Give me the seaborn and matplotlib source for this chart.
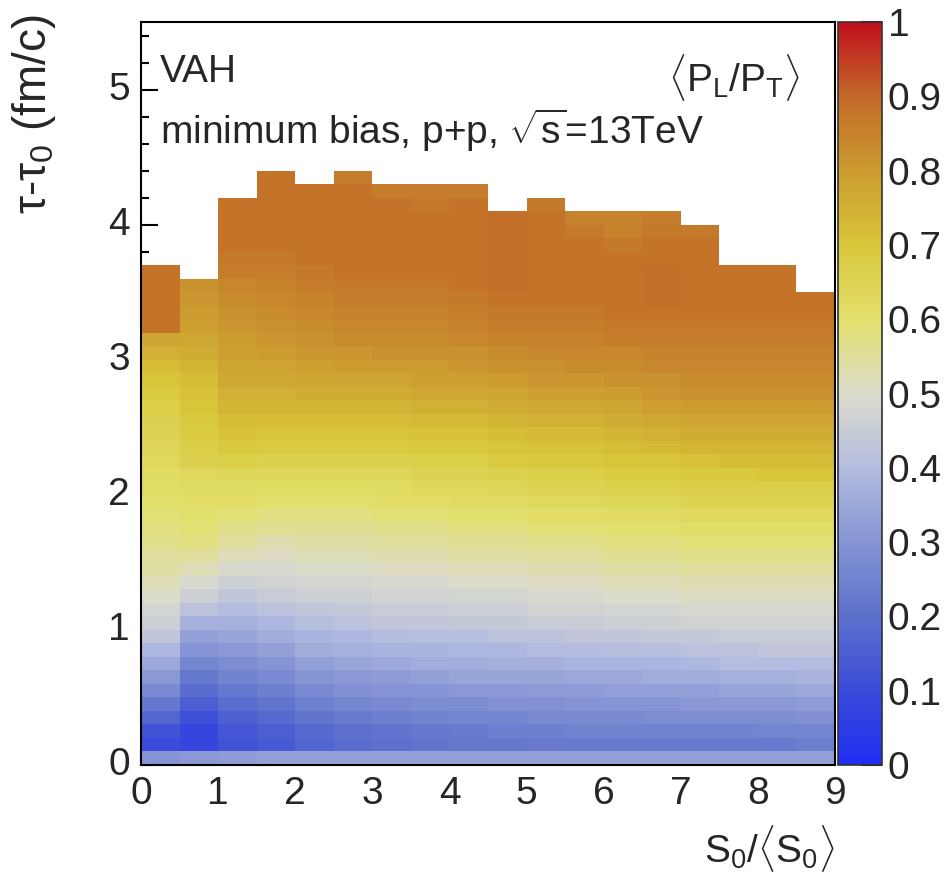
import numpy as np
import pandas as pd
import matplotlib
matplotlib.use("Agg")
import matplotlib.pyplot as plt
import seaborn as sns
from matplotlib.colors import LinearSegmentedColormap
from matplotlib import font_manager

# ---------------- data ----------------
s_bins = [0.0, 0.5, 1.0, 1.5, 2.0, 2.5, 3.0, 3.5, 4.0, 4.5, 5.0, 5.5, 6.0, 6.5, 7.0, 7.5, 8.0, 8.5]
tau_step = 0.1
col_tops = [3.7, 3.6, 4.2, 4.4, 4.3, 4.4, 4.3, 4.3, 4.3, 4.1, 4.2, 4.1, 4.1, 4.1, 4.0, 3.7, 3.7, 3.5]

col00 = [0.30, 0.10, 0.12, 0.17, 0.22, 0.27, 0.31, 0.35, 0.39, 0.43, 0.46, 0.48, 0.50, 0.52, 0.54, 0.55, 0.57, 0.58, 0.59, 0.60,
         0.61, 0.62, 0.63, 0.64, 0.65, 0.66, 0.67, 0.68, 0.70, 0.72, 0.75, 0.78, 0.88, 0.88, 0.88, 0.88, 0.88]
col01 = [0.31, 0.08, 0.08, 0.11, 0.15, 0.19, 0.22, 0.26, 0.30, 0.33, 0.37, 0.42, 0.46, 0.49, 0.52, 0.55, 0.58, 0.59, 0.60, 0.61,
         0.62, 0.63, 0.66, 0.67, 0.68, 0.69, 0.70, 0.71, 0.72, 0.74, 0.76, 0.77, 0.79, 0.80, 0.81, 0.82]
col02 = [0.32, 0.12, 0.13, 0.16, 0.19, 0.22, 0.25, 0.28, 0.31, 0.34, 0.37, 0.40, 0.43, 0.46, 0.49, 0.52, 0.55, 0.57, 0.59, 0.61,
         0.62, 0.64, 0.67, 0.69, 0.71, 0.72, 0.74, 0.75, 0.77, 0.78, 0.79, 0.80, 0.81, 0.82, 0.83, 0.84, 0.86, 0.87, 0.88, 0.88,
         0.88, 0.88]
col03 = [0.33, 0.14, 0.15, 0.18, 0.21, 0.24, 0.27, 0.30, 0.33, 0.36, 0.39, 0.42, 0.45, 0.47, 0.49, 0.51, 0.53, 0.56, 0.58, 0.60,
         0.62, 0.64, 0.66, 0.68, 0.70, 0.72, 0.74, 0.75, 0.77, 0.78, 0.80, 0.81, 0.82, 0.83, 0.84, 0.85, 0.86, 0.87, 0.88, 0.88,
         0.88, 0.88, 0.88, 0.88]
col04 = [0.33, 0.17, 0.18, 0.21, 0.24, 0.27, 0.30, 0.33, 0.36, 0.38, 0.41, 0.43, 0.46, 0.48, 0.50, 0.52, 0.54, 0.56, 0.58, 0.60,
         0.62, 0.64, 0.66, 0.68, 0.70, 0.72, 0.74, 0.76, 0.78, 0.79, 0.81, 0.82, 0.83, 0.84, 0.85, 0.86, 0.87, 0.88, 0.88, 0.88,
         0.88, 0.88, 0.88]
col05 = [0.33, 0.19, 0.20, 0.23, 0.26, 0.29, 0.31, 0.34, 0.37, 0.39, 0.42, 0.44, 0.46, 0.48, 0.50, 0.52, 0.54, 0.56, 0.58, 0.60,
         0.62, 0.64, 0.66, 0.68, 0.70, 0.72, 0.74, 0.76, 0.78, 0.80, 0.81, 0.83, 0.84, 0.85, 0.86, 0.87, 0.88, 0.88, 0.88, 0.88,
         0.88, 0.88, 0.88, 0.86]
col06 = [0.33, 0.20, 0.21, 0.24, 0.27, 0.30, 0.32, 0.35, 0.38, 0.40, 0.43, 0.45, 0.47, 0.49, 0.51, 0.53, 0.55, 0.57, 0.59, 0.61,
         0.62, 0.64, 0.66, 0.68, 0.70, 0.72, 0.74, 0.76, 0.78, 0.80, 0.82, 0.83, 0.84, 0.85, 0.86, 0.87, 0.88, 0.88, 0.88, 0.88,
         0.88, 0.88, 0.86]
col07 = [0.33, 0.21, 0.22, 0.25, 0.28, 0.30, 0.33, 0.36, 0.38, 0.41, 0.43, 0.45, 0.47, 0.49, 0.51, 0.53, 0.55, 0.57, 0.59, 0.61,
         0.63, 0.65, 0.67, 0.69, 0.71, 0.73, 0.75, 0.77, 0.79, 0.80, 0.82, 0.83, 0.84, 0.85, 0.86, 0.87, 0.88, 0.88, 0.88, 0.88,
         0.88, 0.87, 0.86]
col08 = [0.33, 0.22, 0.23, 0.26, 0.28, 0.31, 0.34, 0.36, 0.39, 0.41, 0.44, 0.46, 0.48, 0.50, 0.52, 0.54, 0.56, 0.58, 0.60, 0.62,
         0.63, 0.65, 0.67, 0.69, 0.71, 0.73, 0.75, 0.77, 0.79, 0.81, 0.82, 0.84, 0.85, 0.86, 0.87, 0.88, 0.88, 0.88, 0.88, 0.88,
         0.88, 0.88, 0.86]
col09 = [0.33, 0.22, 0.24, 0.26, 0.29, 0.31, 0.34, 0.37, 0.39, 0.42, 0.44, 0.46, 0.48, 0.50, 0.52, 0.54, 0.56, 0.58, 0.60, 0.62,
         0.64, 0.66, 0.68, 0.70, 0.72, 0.74, 0.76, 0.78, 0.80, 0.82, 0.83, 0.85, 0.86, 0.87, 0.88, 0.89, 0.89, 0.89, 0.89, 0.89,
         0.89]
col10 = [0.33, 0.23, 0.24, 0.27, 0.29, 0.32, 0.34, 0.37, 0.40, 0.42, 0.45, 0.47, 0.49, 0.51, 0.53, 0.55, 0.57, 0.59, 0.61, 0.63,
         0.65, 0.67, 0.69, 0.71, 0.73, 0.75, 0.77, 0.79, 0.81, 0.82, 0.84, 0.85, 0.86, 0.87, 0.88, 0.88, 0.88, 0.88, 0.88, 0.88,
         0.88, 0.87]
col11 = [0.33, 0.23, 0.25, 0.27, 0.30, 0.32, 0.35, 0.38, 0.40, 0.43, 0.45, 0.47, 0.49, 0.51, 0.53, 0.55, 0.57, 0.59, 0.61, 0.63,
         0.65, 0.67, 0.69, 0.71, 0.73, 0.75, 0.77, 0.79, 0.81, 0.83, 0.84, 0.85, 0.86, 0.87, 0.88, 0.88, 0.88, 0.88, 0.88, 0.87,
         0.85]
col12 = [0.33, 0.23, 0.25, 0.27, 0.30, 0.33, 0.35, 0.38, 0.41, 0.43, 0.46, 0.48, 0.50, 0.52, 0.54, 0.56, 0.58, 0.60, 0.62, 0.64,
         0.66, 0.68, 0.70, 0.72, 0.74, 0.76, 0.78, 0.80, 0.82, 0.83, 0.84, 0.86, 0.87, 0.88, 0.88, 0.88, 0.88, 0.88, 0.87, 0.85,
         0.85]
col13 = [0.33, 0.23, 0.25, 0.28, 0.30, 0.33, 0.36, 0.38, 0.41, 0.44, 0.46, 0.48, 0.50, 0.52, 0.54, 0.56, 0.58, 0.60, 0.62, 0.64,
         0.66, 0.68, 0.70, 0.73, 0.75, 0.77, 0.79, 0.81, 0.82, 0.84, 0.85, 0.86, 0.87, 0.88, 0.89, 0.89, 0.89, 0.88, 0.88, 0.87,
         0.86]
col14 = [0.33, 0.23, 0.25, 0.28, 0.31, 0.33, 0.36, 0.39, 0.42, 0.44, 0.47, 0.49, 0.51, 0.53, 0.55, 0.57, 0.59, 0.61, 0.63, 0.65,
         0.67, 0.69, 0.71, 0.74, 0.76, 0.78, 0.80, 0.82, 0.83, 0.84, 0.85, 0.86, 0.87, 0.88, 0.88, 0.88, 0.88, 0.88, 0.88, 0.87]
col15 = [0.33, 0.23, 0.25, 0.28, 0.31, 0.34, 0.37, 0.40, 0.42, 0.45, 0.47, 0.49, 0.51, 0.53, 0.55, 0.57, 0.59, 0.61, 0.63, 0.65,
         0.67, 0.69, 0.72, 0.74, 0.76, 0.78, 0.80, 0.82, 0.83, 0.84, 0.85, 0.86, 0.87, 0.88, 0.88, 0.88, 0.88]
col16 = [0.33, 0.23, 0.26, 0.28, 0.31, 0.34, 0.37, 0.40, 0.43, 0.45, 0.47, 0.49, 0.51, 0.53, 0.55, 0.57, 0.59, 0.61, 0.63, 0.65,
         0.67, 0.70, 0.72, 0.74, 0.76, 0.78, 0.80, 0.82, 0.83, 0.84, 0.85, 0.86, 0.87, 0.88, 0.88, 0.88, 0.88]
col17 = [0.33, 0.24, 0.26, 0.29, 0.32, 0.35, 0.38, 0.40, 0.43, 0.45, 0.47, 0.49, 0.51, 0.53, 0.55, 0.57, 0.59, 0.61, 0.63, 0.65,
         0.67, 0.70, 0.72, 0.74, 0.76, 0.78, 0.80, 0.82, 0.83, 0.84, 0.85, 0.86, 0.87, 0.88, 0.88]

columns = [col00, col01, col02, col03, col04, col05, col06, col07, col08, col09,
           col10, col11, col12, col13, col14, col15, col16, col17]

x_ticks = [0, 1, 2, 3, 4, 5, 6, 7, 8, 9]
y_ticks = [0, 1, 2, 3, 4, 5]
cbar_ticks = [0, 0.1, 0.2, 0.3, 0.4, 0.5, 0.6, 0.7, 0.8, 0.9, 1.0]
cbar_labels = ["0", "0.1", "0.2", "0.3", "0.4", "0.5", "0.6", "0.7", "0.8", "0.9", "1"]

for c, (vals, top) in enumerate(zip(columns, col_tops)):
    assert len(vals) == int(round(top / tau_step)), (c, len(vals), top)

# ---------------- grid ----------------
n_rows = 55  # tau range 0 .. 5.5
Z = np.full((n_rows, len(s_bins)), np.nan)
for c, vals in enumerate(columns):
    Z[:len(vals), c] = vals
df = pd.DataFrame(Z, columns=s_bins)

# ---------------- style ----------------
avail = {f.name for f in font_manager.fontManager.ttflist}
base_font = "Liberation Sans Narrow" if "Liberation Sans Narrow" in avail else "Liberation Sans"
sns.set_style("white")
plt.rcParams["font.family"] = [base_font, "DejaVu Sans"]
plt.rcParams["mathtext.fontset"] = "custom"
plt.rcParams["mathtext.rm"] = base_font
plt.rcParams["mathtext.it"] = base_font
plt.rcParams["mathtext.sf"] = base_font

cmap = LinearSegmentedColormap.from_list("vah", [
    (0.00, "#1f2ef2"), (0.10, "#3a4cd8"), (0.20, "#5e70cc"), (0.30, "#8595d4"),
    (0.40, "#b4bce0"), (0.50, "#dcdccc"), (0.60, "#e2e06c"), (0.70, "#d8c63a"),
    (0.80, "#cc9c30"), (0.90, "#c26a28"), (1.00, "#c0101e")])

W, H = 947, 890
fig = plt.figure(figsize=(W / 100, H / 100), dpi=100)
ax = fig.add_axes([141 / W, 1 - 765 / H, 694 / W, 743 / H])
cax = fig.add_axes([838 / W, 1 - 765 / H, 44 / W, 743 / H])

sns.heatmap(df, ax=ax, cmap=cmap, vmin=0, vmax=1, cbar_ax=cax, linewidths=0)

ax.set_xlim(0, len(s_bins))
ax.set_ylim(0, n_rows)

FS = 28
ax.set_xticks([2 * v for v in x_ticks])
ax.set_xticklabels([str(v) for v in x_ticks], fontsize=FS, rotation=0)
ax.set_xticks(np.arange(0, 18.01, 0.4), minor=True)
ax.set_yticks([10 * v for v in y_ticks])
ax.set_yticklabels([str(v) for v in y_ticks], fontsize=FS, rotation=0)
ax.set_yticks(np.arange(0, 55, 2), minor=True)
ax.tick_params(which="both", direction="in", bottom=True, left=True, top=False, right=False,
               width=1.5, color="black")
ax.tick_params(which="major", length=12, pad=8)
ax.tick_params(which="minor", length=6)
ax.set_xlabel("")
ax.set_ylabel("")
for s in ax.spines.values():
    s.set_visible(True)
    s.set_linewidth(1.5)
    s.set_color("black")

cbar = ax.collections[0].colorbar
cbar.set_ticks(cbar_ticks)
cbar.set_ticklabels(cbar_labels)
cax.tick_params(direction="in", length=15, width=1.5, labelsize=FS, right=True, left=False, pad=4)
cbar.outline.set_visible(True)
cbar.outline.set_linewidth(1.2)
cbar.outline.set_edgecolor("#333333")

# texts
ax.text(19 / 694, 1 - 50 / 743, "VAH", transform=ax.transAxes, fontsize=FS, va="center", ha="left")
ax.text(19 / 694, 1 - 108 / 743, r"minimum bias, p+p, $\sqrt{s}$=13TeV", transform=ax.transAxes,
        fontsize=FS, va="center", ha="left")
ax.text(1 - 35 / 694, 1 - 56 / 743, r"$\langle$P$_L$/P$_T\rangle$", transform=ax.transAxes,
        fontsize=FS, va="center", ha="right")

fig.text(34 / W, 1 - 14 / H, r"$\tau$-$\tau_0$ (fm/c)", rotation=90, fontsize=33, va="top", ha="center")
fig.text(835 / W, 1 - 848 / H, r"S$_0$/$\langle$S$_0\rangle$", fontsize=FS, va="center", ha="right")

fig.savefig("out.png", dpi=100)
